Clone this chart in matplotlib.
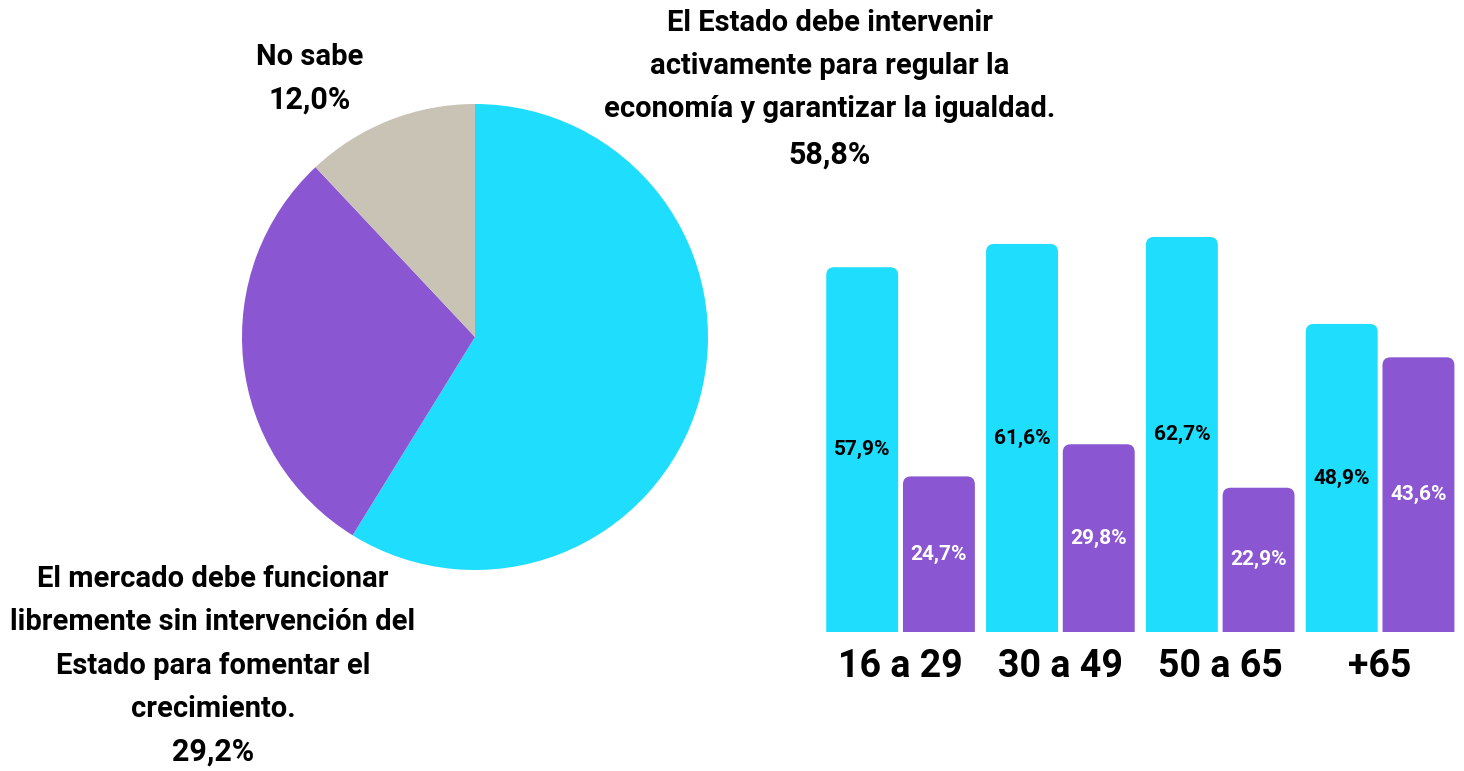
import matplotlib
matplotlib.use("Agg")
import matplotlib.pyplot as plt
from matplotlib.patches import FancyBboxPatch
import numpy as np

# pie data
pie_labels = [
    "El Estado debe intervenir\nactivamente para regular la\neconomía y garantizar la igualdad.",
    "El mercado debe funcionar\nlibremente sin intervención del\nEstado para fomentar el\ncrecimiento.",
    "No sabe",
]
pie_values = [58.8, 29.2, 12.0]
pie_pct = ["58,8%", "29,2%", "12,0%"]

# bars by age group
groups = ["16 a 29", "30 a 49", "50 a 65", "+65"]
estado = [57.9, 61.6, 62.7, 48.9]
mercado = [24.7, 29.8, 22.9, 43.6]

CYAN = "#1FDDFD"
PURPLE = "#8B56D2"
BEIGE = "#C9C3B6"
FONT = ["Roboto", "DejaVu Sans"]

W, H = 1464, 771
fig = plt.figure(figsize=(W / 100, H / 100), dpi=100)
fig.patch.set_facecolor("white")

def px_axes(x0, y0, x1, y1):
    # pixel box (top-left origin) -> figure axes
    return fig.add_axes([x0 / W, 1 - y1 / H, (x1 - x0) / W, (y1 - y0) / H])

# ---- pie ----
cx, cy, r = 475, 337, 233
ax = px_axes(cx - r, cy - r, cx + r, cy + r)
ax.pie(pie_values, colors=[CYAN, PURPLE, BEIGE], startangle=90, counterclock=False,
       radius=1, wedgeprops=dict(linewidth=0))
ax.set_xlim(-1, 1); ax.set_ylim(-1, 1)
ax.set_aspect("auto")
ax.axis("off")

def ftext(x, y, s, size, **kw):
    fig.text(x / W, 1 - y / H, s, family=FONT, fontsize=size, fontweight="bold",
             ha="center", va="center", **kw)

ftext(830, 66, pie_labels[0], 21, linespacing=1.7)
ftext(830, 155, pie_pct[0], 22)
ftext(213, 644, pie_labels[1], 21, linespacing=1.7)
ftext(213, 752, pie_pct[1], 22)
ftext(310, 57, pie_labels[2], 21)
ftext(310, 100, pie_pct[2], 22)

# ---- bars ----
bx = px_axes(800, 191, 1460, 632)
x = np.arange(len(groups))
bw, off = 0.45, 0.24
bx.set_xlim(-0.629, 3.5)
bx.set_ylim(0, 70)
bx.axis("off")

rx = 0.05
aspect = (70 / 441) / (4.129 / 660)
for vals, sign, col, tcol in [(estado, -1, CYAN, "black"), (mercado, 1, PURPLE, "white")]:
    bars = bx.bar(x + sign * off, vals, width=bw, color=col, alpha=0)
    for b, v in zip(bars, vals):
        patch = FancyBboxPatch((b.get_x(), -5), b.get_width(), v + 5,
                               boxstyle=f"round,pad=0,rounding_size={rx}",
                               mutation_aspect=aspect, facecolor=col, edgecolor="none")
        bx.add_patch(patch)
        bx.text(b.get_x() + b.get_width() / 2, v / 2, f"{v:.1f}%".replace(".", ","),
                ha="center", va="center", color=tcol, fontsize=15, fontweight="bold",
                family=FONT)

for xi, g in zip(x, groups):
    bx.text(xi, -5.4, g, ha="center", va="center", fontsize=27, fontweight="bold",
            family=FONT, clip_on=False)

fig.savefig("out.png", dpi=100)
